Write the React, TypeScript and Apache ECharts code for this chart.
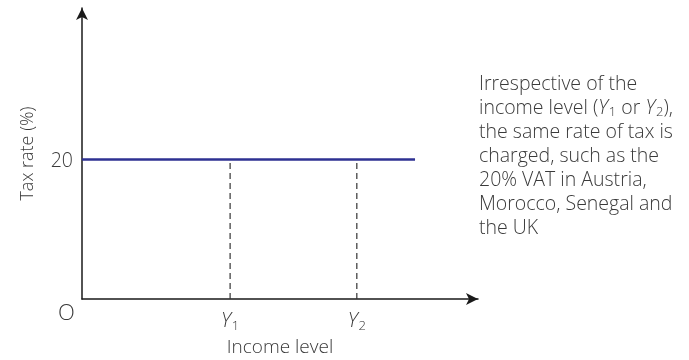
import React, { useEffect, useRef } from "react";
import * as echarts from "echarts";

// Data
const taxRate = 20; // flat rate (%)
const incomeMarks = [37.4, 69.4]; // Y1, Y2 positions on income axis
const incomeLabels = ["1", "2"]; // subscripts for Y
const lineEnd = 84.1; // end of tax line on income axis
const xMax = 100;
const yMax = 41.7;
const yTicks = [20];
const noteLines = [
  "Irrespective of the",
  "income level ({i|Y}{s|1} or {i|Y}{s|2}),",
  "the same rate of tax is",
  "charged, such as the",
  "20% VAT in Austria,",
  "Morocco, Senegal and",
  "the UK",
];

const FONT = "'Open Sans', Lato, sans-serif";
const TXT = "#3a3a3a";

export default function App() {
  const ref = useRef<HTMLDivElement>(null);
  useEffect(() => {
    if (!ref.current) return;
    const chart = echarts.init(ref.current, null, { renderer: "svg" });
    const dashed = incomeMarks.map((v) => ({
      type: "line",
      data: [
        [v, 0],
        [v, taxRate],
      ],
      symbol: "none",
      lineStyle: { color: "#333", width: 1.2, type: [6, 4] },
      z: 1,
    }));
    chart.setOption({
      animation: false,
      grid: { left: 82, top: 8, width: 396, height: 292 },
      xAxis: {
        type: "value",
        min: 0,
        max: xMax,
        splitLine: { show: false },
        axisTick: { show: false },
        axisLine: {
          show: true,
          symbol: ["none", "arrow"],
          symbolSize: [9, 12],
          lineStyle: { color: "#1a1a1a", width: 1.5 },
        },
        axisLabel: {
          customValues: incomeMarks,
          margin: 9,
          formatter: (v: number) => {
            const idx = incomeMarks.indexOf(v);
            return "{i|Y}{s|" + incomeLabels[idx] + "}";
          },
          rich: {
            i: { fontFamily: FONT, fontSize: 20, fontStyle: "italic", fontWeight: 300, color: TXT, lineHeight: 22 },
            s: { fontFamily: FONT, fontSize: 13, fontWeight: 300, color: TXT, padding: [11, 0, 0, 1], lineHeight: 22 },
          },
        },
        name: "Income level",
        nameLocation: "middle",
        nameGap: 36,
        nameTextStyle: { fontFamily: FONT, fontSize: 19, fontWeight: 300, color: TXT },
      },
      yAxis: {
        type: "value",
        min: 0,
        max: yMax,
        splitLine: { show: false },
        axisTick: { show: false },
        axisLine: {
          show: true,
          symbol: ["none", "arrow"],
          symbolSize: [9, 12],
          lineStyle: { color: "#1a1a1a", width: 1.5 },
        },
        axisLabel: {
          customValues: yTicks,
          margin: 9,
          fontFamily: FONT,
          fontSize: 19.5,
          fontWeight: 300,
          color: TXT,
        },
        name: "Tax rate (%)",
        nameLocation: "middle",
        nameRotate: 90,
        nameGap: 47,
        nameTextStyle: { fontFamily: FONT, fontSize: 18, fontWeight: 300, color: TXT },
      },
      series: [
        {
          type: "line",
          data: [
            [0, taxRate],
            [lineEnd, taxRate],
          ],
          symbol: "none",
          lineStyle: { color: "#2e3192", width: 2.5 },
          z: 3,
        },
        ...dashed,
      ],
      graphic: [
        {
          type: "text",
          left: 58,
          top: 300,
          style: { text: "O", fontFamily: FONT, fontSize: 22, fontWeight: 300, fill: TXT },
        },
        {
          type: "text",
          left: 479,
          top: 70,
          style: {
            text: noteLines.join("\n"),
            fontFamily: FONT,
            fontSize: 19.5,
            fontWeight: 300,
            fill: TXT,
            lineHeight: 24,
            rich: {
              i: { fontFamily: FONT, fontSize: 19.5, fontStyle: "italic", fontWeight: 300, fill: TXT, lineHeight: 24 },
              s: { fontFamily: FONT, fontSize: 13, fontWeight: 300, fill: TXT, padding: [10, 0, 0, 1], lineHeight: 24 },
            },
          },
        },
      ],
    });
    return () => chart.dispose();
  }, []);
  return (
    <div
      ref={ref}
      style={{ position: "fixed", left: 0, top: 0, width: 689, height: 360 }}
    />
  );
}
